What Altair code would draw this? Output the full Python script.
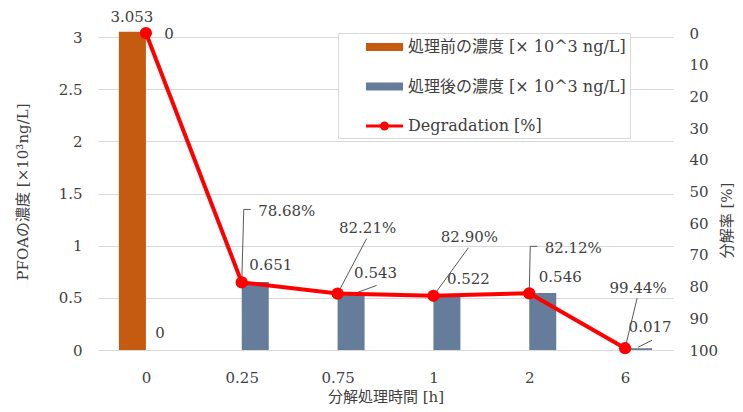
import altair as alt
import pandas as pd

# ---------------- data ----------------
categories = ["0", "0.25", "0.75", "1", "2", "6"]
before_conc = [3.053, None, None, None, None, None]
after_conc = [0, 0.651, 0.543, 0.522, 0.546, 0.017]
degradation = [0, 78.68, 82.21, 82.90, 82.12, 99.44]
before_labels = ["3.053", "", "", "", "", ""]
after_labels = ["0", "0.651", "0.543", "0.522", "0.546", "0.017"]
deg_labels = ["0", "78.68%", "82.21%", "82.90%", "82.12%", "99.44%"]
legend_items = ["処理前の濃度 [× 10^3 ng/L]", "処理後の濃度 [× 10^3 ng/L]", "Degradation [%]"]
left_ticks = [0, 0.5, 1, 1.5, 2, 2.5, 3]
right_ticks = [0, 10, 20, 30, 40, 50, 60, 70, 80, 90, 100]

# ---------------- styles / layout ----------------
FONT = "'DejaVu Serif', 'Noto Sans CJK JP', serif"
TXT = "#404040"
ORANGE = "#C55A11"
BLUE = "#657C9A"
RED = "#FF0000"
GRID = "#D9D9D9"
FS = 15
legend_colors = [ORANGE, BLUE, RED]
rect_path = "M1.4,-0.4H5.1V0.4H1.4Z"
line_path = "M1.4,-0.15H5.1V0.15H1.4Z M3.7,0A0.45,0.45 0 1,1 2.8,0A0.45,0.45 0 1,1 3.7,0Z"
legend_paths = [rect_path, rect_path, line_path]

# label offsets (pixels) relative to the data point, per category
before_label_off = {0: (-14, -15)}
after_label_off = [(14, -17), (29, -17), (38, -20), (35, -17), (31, -16), (25, -21)]
deg_label_off = [(23, 1), (45, -71), (30, -66), (36, -59), (44, -45), (13, -60)]
# leader lines: (category index, x1, y1, x2, y2) pixel offsets from the data point
deg_leaders = [(1, 0, 0, 2, -73), (1, 2, -73, 9, -73), (2, 0, 0, 29, -55),
               (3, 0, 0, 35, -48), (4, 0, 0, 1, -47), (4, 1, -47, 8, -47),
               (5, 0, 0, 12, -50)]
after_leaders = [(2, 12, 2, 39, -8), (5, 13, -1, 27, -8)]

n = len(categories)
df = pd.DataFrame({
    "idx": list(range(n)),
    "cat": categories,
    "before": before_conc,
    "after": after_conc,
    "deg": degradation,
    "before_label": before_labels,
    "after_label": after_labels,
    "deg_label": deg_labels,
})
legend_df = pd.DataFrame({"item": legend_items, "idx": [0] * 3, "y": [-1] * 3})

label_expr = "[" + ",".join("'%s'" % c for c in categories) + "][datum.value]"

x_axis = alt.Axis(values=list(range(n)), labelExpr=label_expr, grid=False, domain=False,
                  ticks=False, labelPadding=20, labelFontSize=FS, labelColor=TXT,
                  title="分解処理時間 [h]", titleFontSize=FS, titleColor=TXT,
                  titleFontWeight="normal", titleY=46, titleBaseline="middle")
x_scale = alt.Scale(domain=[-0.5, n - 0.5], nice=False, zero=False, padding=0)


def X():
    return alt.X("idx:Q", scale=x_scale, axis=x_axis)


left_scale = alt.Scale(domain=[0, 3.04], nice=False, zero=True)
left_axis = alt.Axis(orient="left", values=left_ticks, format="~g", grid=True, gridColor=GRID,
                     domain=False, ticks=False, labelPadding=16, labelFontSize=FS,
                     labelColor=TXT, title="PFOAの濃度 [×10³ng/L]", titleFontSize=FS,
                     titleColor=TXT, titleFontWeight="normal", titleX=-76, titleY=158.5,
                     titleAngle=270, titleBaseline="middle", titleAlign="center")
right_scale = alt.Scale(domain=[0, 100], reverse=True, nice=False)
right_axis = alt.Axis(orient="right", values=right_ticks, format="d", grid=False,
                      domain=False, ticks=False, labelPadding=16, labelFontSize=FS,
                      labelColor=TXT, title="分解率 [%]", titleFontSize=FS, titleColor=TXT,
                      titleFontWeight="normal", titleX=53, titleY=187, titleAngle=270,
                      titleBaseline="middle", titleAlign="center")


def LY(f):
    return alt.Y(f + ":Q", scale=left_scale, axis=left_axis)


def RY(f):
    return alt.Y(f + ":Q", scale=right_scale, axis=right_axis)


base = alt.Chart(df)

orange = base.transform_filter("isValid(datum.before)").mark_bar(
    color=ORANGE, size=27, xOffset=-13.5, orient="vertical").encode(x=X(), y=LY("before"))
blue = base.mark_bar(color=BLUE, size=27, xOffset=13.5, orient="vertical").encode(
    x=X(), y=LY("after"))

left_layers = [orange, blue]
for i, (dx, dy) in before_label_off.items():
    left_layers.append(base.transform_filter("datum.idx == %d" % i).mark_text(
        dx=dx, dy=dy, align="center", baseline="middle", fontSize=FS, color=TXT).encode(
        x=X(), y=LY("before"), text="before_label:N"))
for i, (dx, dy) in enumerate(after_label_off):
    left_layers.append(base.transform_filter("datum.idx == %d" % i).mark_text(
        dx=dx, dy=dy, align="center", baseline="middle", fontSize=FS, color=TXT).encode(
        x=X(), y=LY("after"), text="after_label:N"))
for (i, x1, y1, x2, y2) in after_leaders:
    left_layers.append(base.transform_filter("datum.idx == %d" % i).mark_rule(
        xOffset=x1, yOffset=y1, x2Offset=x2, y2Offset=y2, color="#595959", strokeWidth=1).encode(
        x=X(), x2=alt.X2("idx"), y=LY("after"), y2=alt.Y2("after")))

leg = alt.Legend(title=None, orient="none", legendX=240, legendY=0, direction="vertical",
                 padding=4, rowPadding=21.5, symbolSize=400, symbolStrokeWidth=0,
                 labelOffset=46, labelFontSize=16, labelColor=TXT, strokeColor=GRID,
                 fillColor="white", labelLimit=400)
legend_layer = alt.Chart(legend_df).mark_point(filled=True, opacity=1, clip=True).encode(
    x=X(), y=LY("y"),
    color=alt.Color("item:N", scale=alt.Scale(domain=legend_items, range=legend_colors), legend=leg),
    shape=alt.Shape("item:N", scale=alt.Scale(domain=legend_items, range=legend_paths), legend=leg),
)
left_layers.append(legend_layer)

right_layers = []
for (i, x1, y1, x2, y2) in deg_leaders:
    right_layers.append(base.transform_filter("datum.idx == %d" % i).mark_rule(
        xOffset=x1, yOffset=y1, x2Offset=x2, y2Offset=y2, color="#595959", strokeWidth=1).encode(
        x=X(), x2=alt.X2("idx"), y=RY("deg"), y2=alt.Y2("deg")))
right_layers.append(base.mark_line(color=RED, strokeWidth=4).encode(x=X(), y=RY("deg")))
right_layers.append(base.mark_circle(color=RED, size=150, opacity=1).encode(x=X(), y=RY("deg")))
for i, (dx, dy) in enumerate(deg_label_off):
    right_layers.append(base.transform_filter("datum.idx == %d" % i).mark_text(
        dx=dx, dy=dy, align="center", baseline="middle", fontSize=FS, color=TXT).encode(
        x=X(), y=RY("deg"), text="deg_label:N"))

left = alt.layer(*left_layers)
right = alt.layer(*right_layers)

chart = alt.layer(left, right).resolve_scale(y="independent").properties(
    width=575, height=317,
    padding={"left": 90, "top": 25, "right": 62, "bottom": 54},
    autosize=alt.AutoSizeParams(type="none"),
).configure(font=FONT).configure_view(stroke=None)

chart.save("out.html", embed_options={"renderer": "svg", "actions": False})
